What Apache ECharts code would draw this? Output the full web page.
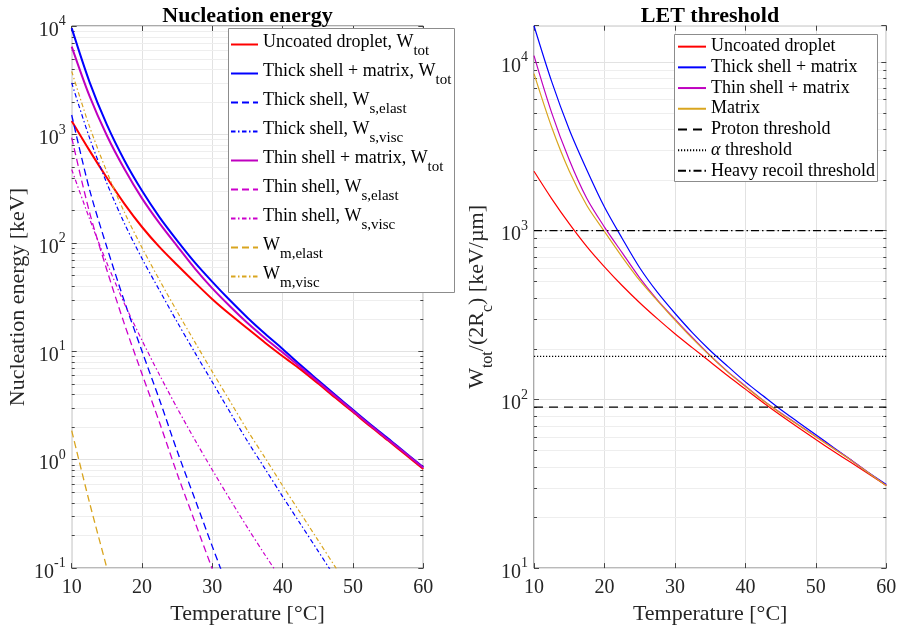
<!DOCTYPE html>
<html><head><meta charset="utf-8">
<script src="https://cdn.jsdelivr.net/npm/echarts/dist/echarts.min.js"></script>
<style>html,body{margin:0;padding:0;background:#fff}#c{width:901px;height:630px}</style>
</head><body><div id="c"></div>
<script>
// ---------------- data ----------------
const temperature = [10,12.5,15,17.5,20,22.5,25,27.5,30,32.5,35,37.5,40,42.5,45,47.5,50,52.5,55,57.5,60];
const xTicks = [10,20,30,40,50,60];

// Nucleation energy [keV]
const uncoatedTot   = [1330,716,398,229,140,91.2,62.4,43.2,30.2,21.9,16.2,12.0,9.0,6.84,5.07,3.72,2.75,2.02,1.5,1.11,0.82];
const thickTot      = [9550,3090,1230,575,302,172,105,66.1,43.7,29.5,20.4,14.5,10.5,7.5,5.43,3.94,2.88,2.11,1.57,1.15,0.851];
const thickElast    = [1510,316,91.2,28.8,10.0,3.55,1.2,0.437,0.158,0.0589];
const thickVisc     = [2990,944,355,151,71.6,36.3,18.6,9.77,5.19,2.75,1.48,0.822,0.457,0.257,0.145,0.0813];
const thinTot       = [6460,2290,977,479,257,151,93.3,58.2,38.0,26.0,18.2,13.2,9.77,7.16,5.25,3.85,2.82,2.07,1.53,1.14,0.841];
const thinElast     = [933,195,56.2,17.8,6.17,2.19,0.741,0.269,0.0977,0.0363];
const thinVisc      = [475,169,65.3,27.5,12.6,6.03,2.99,1.53,0.804,0.432,0.236,0.132,0.0753];
const matrixElast   = [1.85,0.41,0.1,0.0234];
const matrixVisc    = [3820,1200,452,191,90.2,45.2,23.2,12.2,6.46,3.47,1.86,1.04,0.575,0.324,0.182,0.102,0.0575];

// LET threshold [keV/um]
const letUncoated   = [2250,1550,1100,804,610,473,374,301,245,202,167,138,115,95.9,80.5,68.1,57.8,49.3,42.2,36.1,30.9];
const letThick      = [16400,7670,3980,2290,1380,902,603,432,324,248,195,157,127,105,87.1,73.3,61.7,51.9,43.7,36.7,31.3];
const letThin       = [10900,5010,2630,1550,1050,741,525,389,299,232,182,146,120,98.9,83.2,70.8,60.3,51.3,43.7,36.7,30.9];
const letMatrix     = [8530,4120,2260,1410,989,700,507,385,295,229,181,145,119,98.4,82.8,70.5,60.0,51.1,43.5,36.6,30.8];
const protonThreshold = 90;
const alphaThreshold = 180;
const heavyRecoilThreshold = 1000;
const thresholdT = [10, 60];

const leftYRange = [0.1, 10000];
const rightYRange = [10, 16400];

// ---------------- styling ----------------
const FONT = '"Liberation Serif","Times New Roman",serif';
const RED = '#ff0000', BLUE = '#0000ff', MAG = '#bf00bf', MAG2 = '#cc00cc', GOLD = '#d9a51f';
const DASH = [7, 4], DASHDOT = [4.5, 2.5, 1.5, 2.5];
const AXC = '#262626';

const pairs = arr => arr.map((v, i) => [temperature[i], v]);
const flat = v => thresholdT.map(t => [t, v]);

function minorValues(lo, hi) {
  const out = [];
  for (let k = Math.floor(Math.log10(lo)); k <= Math.ceil(Math.log10(hi)); k++)
    for (let m = 2; m <= 9; m++) { const v = m * Math.pow(10, k); if (v > lo && v < hi) out.push(v); }
  return out;
}
function minorSeries(xi, yi, vals) {
  return {
    type: 'custom', xAxisIndex: xi, yAxisIndex: yi, silent: true, z: 1, clip: false,
    data: vals.map(v => [10, v]),
    renderItem: (params, api) => {
      const cs = params.coordSys;
      let y = api.coord([10, api.value(1)])[1];
      y = Math.round(y) + 0.5;
      const x0 = cs.x, x1 = cs.x + cs.width;
      return { type: 'group', children: [
        { type: 'line', shape: { x1: x0, y1: y, x2: x1, y2: y }, style: { stroke: '#eeeeee', lineWidth: 1 } },
        { type: 'line', shape: { x1: x0, y1: y, x2: x0 + 3, y2: y }, style: { stroke: '#444', lineWidth: 1 } },
        { type: 'line', shape: { x1: x1 - 3, y1: y, x2: x1, y2: y }, style: { stroke: '#444', lineWidth: 1 } }
      ]};
    }
  };
}

const logLabel = {
  color: AXC, margin: 6,
  formatter: v => { const e = Math.log10(v); const r = Math.round(e); if (Math.abs(e - r) > 1e-6) return ''; return '{b|10}{p|' + r + '}'; },
  rich: {
    b: { fontFamily: FONT, fontSize: 20, color: AXC, height: 22, lineHeight: 31, verticalAlign: 'bottom' },
    p: { fontFamily: FONT, fontSize: 14, color: AXC, height: 22, verticalAlign: 'top' }
  }
};
const gridLine = { show: true, lineStyle: { color: '#e2e2e2', width: 1 } };

function xAxes(gi) {
  return [
    { type: 'value', gridIndex: gi, min: 10, max: 60, interval: 10, position: 'bottom',
      axisLine: { show: false }, axisTick: { inside: true, length: 5, lineStyle: { color: '#444' } },
      axisLabel: { color: AXC, fontFamily: FONT, fontSize: 20, margin: 10 },
      splitLine: gridLine,
      name: 'Temperature [°C]', nameLocation: 'middle', nameGap: 32,
      nameTextStyle: { fontFamily: FONT, fontSize: 22, color: AXC } },
    { type: 'value', gridIndex: gi, min: 10, max: 60, interval: 10, position: 'top',
      axisLine: { show: false }, axisTick: { inside: true, length: 5, lineStyle: { color: '#444' } },
      axisLabel: { show: false }, splitLine: { show: false } }
  ];
}
function yAxes(gi, range, nameObj) {
  return [
    Object.assign({ type: 'log', logBase: 10, gridIndex: gi, min: range[0], max: range[1], position: 'left',
      axisLine: { show: false }, axisTick: { inside: true, length: 5, lineStyle: { color: '#444' } },
      axisLabel: logLabel, splitLine: gridLine, nameLocation: 'middle' }, nameObj),
    { type: 'log', logBase: 10, gridIndex: gi, min: range[0], max: range[1], position: 'right',
      axisLine: { show: false }, axisTick: { inside: true, length: 5, lineStyle: { color: '#444' } },
      axisLabel: { show: false }, splitLine: { show: false } }
  ];
}

function line(name, data, xi, yi, color, width, type, extra) {
  return Object.assign({
    name, type: 'line', xAxisIndex: xi, yAxisIndex: yi, data, symbol: 'none', showSymbol: false,
    smooth: 0.3, clip: true, animation: false, emphasis: { disabled: true },
    lineStyle: { color, width, type }, itemStyle: { color }
  }, extra || {});
}

const leftNames = ['Uncoated droplet, W_tot','Thick shell + matrix, W_tot','Thick shell, W_s,elast','Thick shell, W_s,visc',
  'Thin shell + matrix, W_tot','Thin shell, W_s,elast','Thin shell, W_s,visc','W_m,elast','W_m,visc'];
const rightNames = ['Uncoated droplet','Thick shell + matrix','Thin shell + matrix','Matrix',
  'Proton threshold','α threshold','Heavy recoil threshold'];

const series = [
  minorSeries(0, 0, minorValues(leftYRange[0], leftYRange[1])),
  minorSeries(2, 2, minorValues(rightYRange[0], rightYRange[1])),
  line(leftNames[0], pairs(uncoatedTot), 0, 0, RED, 2, 'solid'),
  line(leftNames[1], pairs(thickTot), 0, 0, BLUE, 2, 'solid'),
  line(leftNames[2], pairs(thickElast), 0, 0, BLUE, 1.3, DASH),
  line(leftNames[3], pairs(thickVisc), 0, 0, BLUE, 1.2, DASHDOT),
  line(leftNames[4], pairs(thinTot), 0, 0, MAG, 2, 'solid'),
  line(leftNames[5], pairs(thinElast), 0, 0, MAG2, 1.3, DASH),
  line(leftNames[6], pairs(thinVisc), 0, 0, MAG2, 1.2, DASHDOT),
  line(leftNames[7], pairs(matrixElast), 0, 0, GOLD, 1.3, DASH),
  line(leftNames[8], pairs(matrixVisc), 0, 0, GOLD, 1.2, DASHDOT),
  line(rightNames[0], pairs(letUncoated), 2, 2, RED, 1.2, 'solid'),
  line(rightNames[1], pairs(letThick), 2, 2, BLUE, 1.2, 'solid'),
  line(rightNames[2], pairs(letThin), 2, 2, MAG, 1.2, 'solid'),
  line(rightNames[3], pairs(letMatrix), 2, 2, GOLD, 1.2, 'solid'),
  line(rightNames[4], flat(protonThreshold), 2, 2, '#000', 1.2, [9, 6], { smooth: false }),
  line(rightNames[5], flat(alphaThreshold), 2, 2, '#000', 1.2, [1.2, 1.8], { smooth: false }),
  line(rightNames[6], flat(heavyRecoilThreshold), 2, 2, '#000', 1.2, [8, 3, 1.5, 3], { smooth: false })
];

const option = {
  backgroundColor: '#fff',
  animation: false,
  title: [
    { text: 'Nucleation energy', left: 247.5, top: 5, textAlign: 'center', padding: 0,
      textStyle: { fontFamily: FONT, fontSize: 22, fontWeight: 'bold', color: '#000' } },
    { text: 'LET threshold', left: 710, top: 5, textAlign: 'center', padding: 0,
      textStyle: { fontFamily: FONT, fontSize: 22, fontWeight: 'bold', color: '#000' } }
  ],
  grid: [
    { left: 71.7, top: 26, width: 351.6, height: 543.3, show: true, borderColor: '#555', borderWidth: 1, backgroundColor: 'transparent' },
    { left: 534, top: 25.7, width: 352.3, height: 543.6, show: true, borderColor: '#555', borderWidth: 1, backgroundColor: 'transparent' }
  ],
  xAxis: xAxes(0).concat(xAxes(1)),
  yAxis: yAxes(0, leftYRange, { name: 'Nucleation energy [keV]', nameGap: 42,
      nameTextStyle: { fontFamily: FONT, fontSize: 22, color: AXC } })
    .concat(yAxes(1, rightYRange, { name: '{n|W}{s|tot}{n|/(2R}{s|c}{n|) [keV/µm]}', nameGap: 33,
      nameTextStyle: { rich: {
        n: { fontFamily: FONT, fontSize: 22, color: AXC, height: 26, lineHeight: 37, verticalAlign: 'top' },
        s: { fontFamily: FONT, fontSize: 16, color: AXC, height: 26, verticalAlign: 'bottom' } } } })),
  legend: [
    { data: leftNames, orient: 'vertical', left: 230, top: 30, padding: 0, itemGap: 0,
      itemWidth: 27, itemHeight: 14, selectedMode: false, itemStyle: { opacity: 0 },
      formatter: name => { const m = name.match(/^(.*?)_(.+)$/); return m ? '{a|' + m[1] + '}{s|' + m[2] + '}' : name; },
      textStyle: { fontFamily: FONT, fontSize: 18, color: '#000', rich: {
        a: { fontFamily: FONT, fontSize: 18, color: '#000', height: 25, lineHeight: 29, verticalAlign: 'top' },
        s: { fontFamily: FONT, fontSize: 15, color: '#000', height: 15, verticalAlign: 'bottom' } } } },
    { data: rightNames, orient: 'vertical', left: 677, top: 36.3, padding: 0, itemGap: 0,
      itemWidth: 28, itemHeight: 10, selectedMode: false, itemStyle: { opacity: 0 },
      formatter: name => name.charAt(0) === 'α' ? '{i|α}{r|' + name.slice(1) + '}' : name,
      textStyle: { fontFamily: FONT, fontSize: 18, color: '#000', lineHeight: 20.7, rich: {
        i: { fontFamily: FONT, fontSize: 18, fontStyle: 'italic', color: '#000', lineHeight: 20.7 },
        r: { fontFamily: FONT, fontSize: 18, color: '#000', lineHeight: 20.7 } } } }
  ],
  graphic: { elements: [
    { type: 'rect', z: 3, silent: true, shape: { x: 228.5, y: 28.5, width: 226, height: 264 },
      style: { fill: '#fff', stroke: '#8c8c8c', lineWidth: 1 } },
    { type: 'rect', z: 3, silent: true, shape: { x: 674.5, y: 34.5, width: 203, height: 147 },
      style: { fill: '#fff', stroke: '#8c8c8c', lineWidth: 1 } }
  ]},
  series
};

const chart = echarts.init(document.getElementById('c'), null, { renderer: 'canvas' });
chart.setOption(option);
</script>
</body></html>
